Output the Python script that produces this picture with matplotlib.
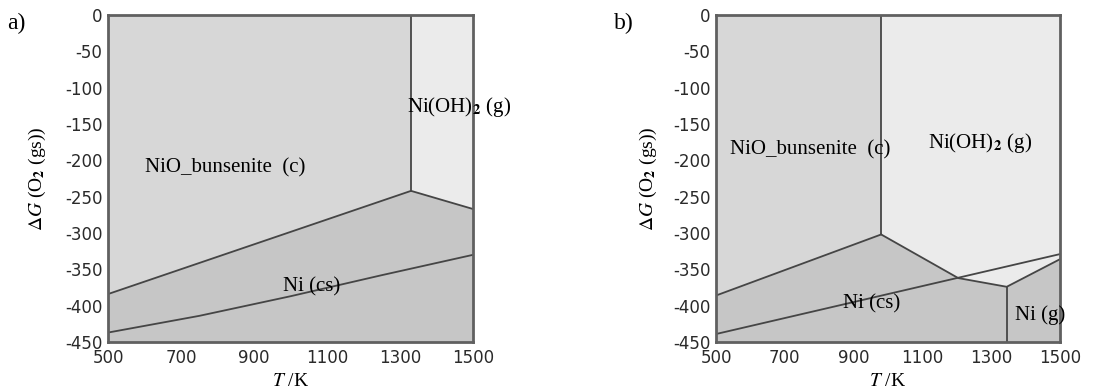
import numpy as np
import matplotlib.pyplot as plt

plt.rcParams['axes.unicode_minus'] = False
plt.rcParams['mathtext.fontset'] = 'stix'

# ---------------- panel a) boundaries (T in K, dG in kJ/mol O2) ----------------
a_T_vert = 1330                      # NiO / Ni(OH)2 border
a_up_T = [500, 1330, 1500]           # upper border of Ni(cs)
a_up_G = [-384, -242, -267]
a_low_T = [500, 750, 1000, 1250, 1500]
a_low_G = [-437, -414, -387, -358, -330]

# ---------------- panel b) ----------------
b_T_vert = 980
b_nio_T = [500, 980]
b_nio_G = [-386, -302]
b_gas_T = [980, 1204, 1345, 1500]    # lower border of Ni(OH)2 (g)
b_gas_G = [-302, -362, -374, -336]
b_nig_T = 1345                       # Ni(cs) / Ni(g) border
b_low_T = [500, 1500]
b_low_G = [-439, -329]

yticks = np.arange(0, -451, -50)
xticks = [500, 700, 900, 1100, 1300, 1500]

c_nio = '#d7d7d7'
c_gas = '#ebebeb'
c_ni = '#c6c6c6'
c_line = '#454545'
serif = 'Liberation Serif'

fig = plt.figure(figsize=(11.15, 3.89), dpi=100, facecolor='white')
axa = fig.add_axes([0.0969, 0.1208, 0.3274, 0.8406])
axb = fig.add_axes([0.6422, 0.1208, 0.3085, 0.8406])

def style(ax):
    ax.set_xlim(500, 1500)
    ax.set_ylim(-450, 0)
    ax.set_xticks(xticks)
    ax.set_yticks(yticks)
    ax.tick_params(length=0, labelsize=12, labelcolor='#2a2a2a')
    ax.tick_params(axis='y', pad=4)
    ax.tick_params(axis='x', pad=5)
    for s in ax.spines.values():
        s.set_color('#606060')
        s.set_linewidth(2)
    ax.set_ylabel(r'$\mathit{\Delta G}$ (O$_\mathbf{2}$ (gs))', fontsize=14, family=serif)
    ax.yaxis.set_label_coords(-0.165, 0.5)
    ax.set_xlabel(r'$\mathit{T}$ /K', fontsize=14, family=serif)
    ax.xaxis.set_label_coords(0.5, -0.095)

# ---- a) ----
ax = axa
ax.fill([500, a_T_vert] + a_up_T[:2][::-1], [0, 0, a_up_G[1], a_up_G[0]], color=c_nio, lw=0)
ax.fill([a_T_vert, 1500, 1500, a_T_vert], [0, 0, a_up_G[2], a_up_G[1]], color=c_gas, lw=0)
ax.fill(a_up_T + [1500, 500], a_up_G + [-450, -450], color=c_ni, lw=0)
ax.plot(a_up_T, a_up_G, color=c_line, lw=1.3)
ax.plot([a_T_vert, a_T_vert], [0, a_up_G[1]], color=c_line, lw=1.3)
ax.plot(a_low_T, a_low_G, color=c_line, lw=1.3)
style(ax)
ax.text(601, -210, 'NiO_bunsenite  (c)', fontsize=15, family=serif, va='center')
ax.text(1318, -127, r'Ni(OH)$_\mathbf{2}$ (g)', fontsize=15, family=serif, va='center', clip_on=False)
ax.text(979, -374, 'Ni (cs)', fontsize=15, family=serif, va='center')
fig.text(0.006, 0.94, 'a)', fontsize=17, family=serif, va='center')

# ---- b) ----
ax = axb
ax.fill([500, b_T_vert] + b_nio_T[::-1], [0, 0] + b_nio_G[::-1], color=c_nio, lw=0)
ax.fill([b_T_vert, 1500] + b_gas_T[::-1], [0, 0] + b_gas_G[::-1], color=c_gas, lw=0)
ax.fill(b_nio_T + b_gas_T[1:3] + [b_nig_T, 500],
        b_nio_G + b_gas_G[1:3] + [-450, -450], color=c_ni, lw=0)
ax.fill(b_gas_T[2:] + [1500, b_nig_T], b_gas_G[2:] + [-450, -450], color=c_ni, lw=0)
ax.plot(b_nio_T, b_nio_G, color=c_line, lw=1.3)
ax.plot(b_gas_T, b_gas_G, color=c_line, lw=1.3)
ax.plot([b_T_vert, b_T_vert], [0, b_nio_G[1]], color=c_line, lw=1.3)
ax.plot([b_nig_T, b_nig_T], [b_gas_G[2], -450], color=c_line, lw=1.3)
ax.plot(b_low_T, b_low_G, color=c_line, lw=1.3)
style(ax)
ax.text(541, -186, 'NiO_bunsenite  (c)', fontsize=15, family=serif, va='center')
ax.text(1116, -176, r'Ni(OH)$_\mathbf{2}$ (g)', fontsize=15, family=serif, va='center')
ax.text(869, -398, 'Ni (cs)', fontsize=15, family=serif, va='center')
ax.text(1369, -413, 'Ni (g)', fontsize=15, family=serif, va='center')
fig.text(0.551, 0.94, 'b)', fontsize=17, family=serif, va='center')

fig.savefig('out.png', dpi=100, facecolor='white')
